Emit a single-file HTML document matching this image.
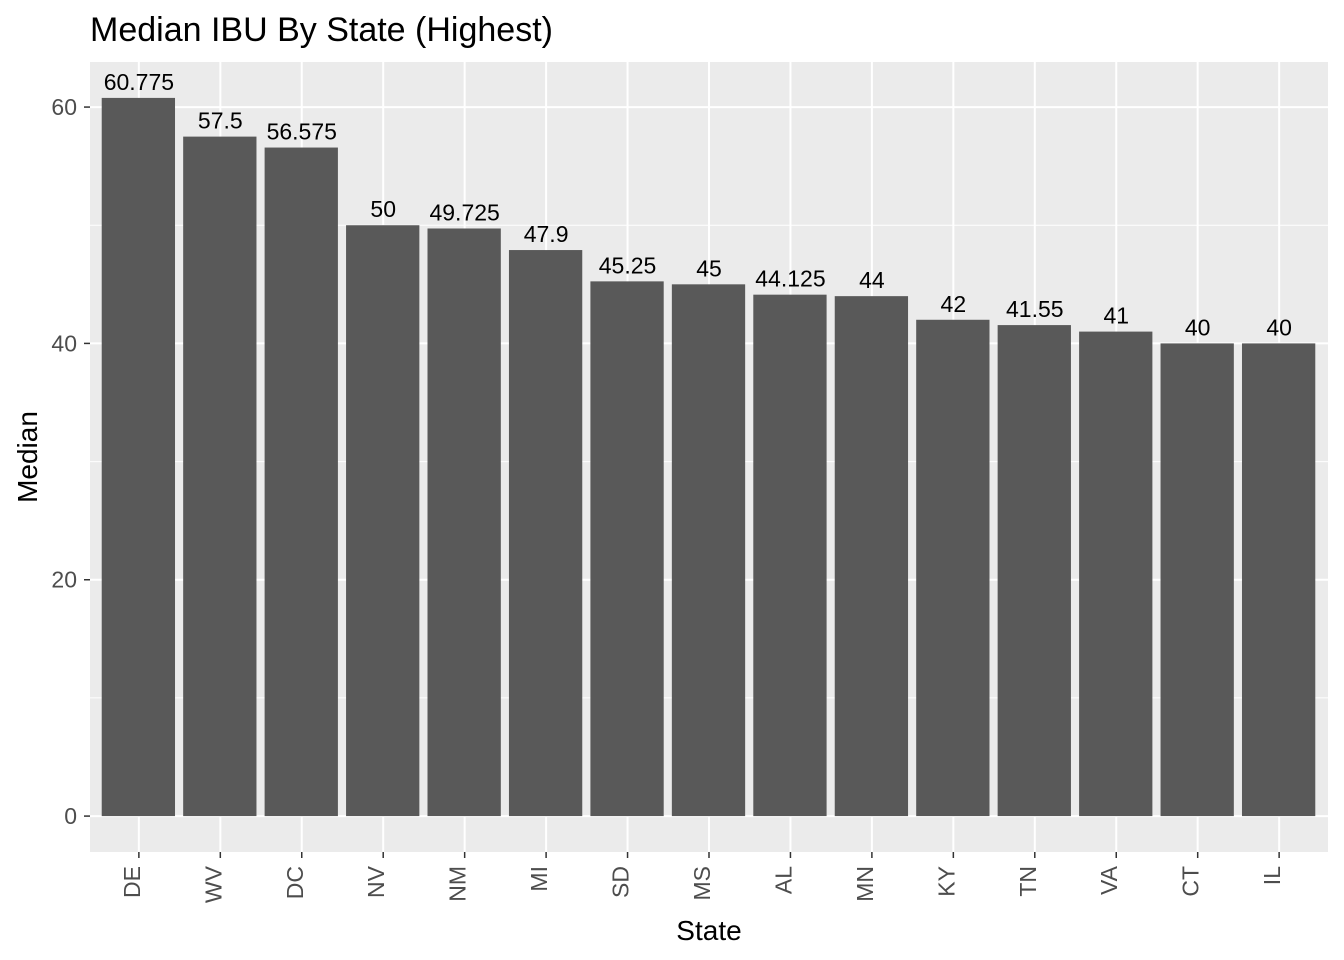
<!DOCTYPE html>
<html><head><meta charset="utf-8"><style>
body{margin:0;background:#fff;}
svg{display:block;font-family:"Liberation Sans",Arial,sans-serif;}
</style></head><body>
<svg id="c" width="1344" height="960">
<text x="90" y="41" font-size="34" fill="#000">Median IBU By State (Highest)</text>
<rect x="90" y="62" width="1238" height="790" fill="#ebebeb"/>
<g id="grid"></g><g id="bars"></g><g id="axes"></g>
<text x="709" y="940" font-size="28" text-anchor="middle" fill="#000">State</text>
<text transform="translate(37,457) rotate(-90)" font-size="28" text-anchor="middle" fill="#000">Median</text>
</svg>
<script>
const states=["DE","WV","DC","NV","NM","MI","SD","MS","AL","MN","KY","TN","VA","CT","IL"];
const medians=[60.775,57.5,56.575,50,49.725,47.9,45.25,45,44.125,44,42,41.55,41,40,40];
const labels=["60.775","57.5","56.575","50","49.725","47.9","45.25","45","44.125","44","42","41.55","41","40","40"];
const yTicks=[0,20,40,60];
const NS="http://www.w3.org/2000/svg";
const px0=90,px1=1328,py0=62,py1=852;
function y(v){const lo=-Math.max(...medians)*0.05,hi=Math.max(...medians)*1.05;return py1-(v-lo)/(hi-lo)*(py1-py0);}
const step=(px1-px0)/(states.length+0.2);
function x(i){return px0+step*(0.6+i);}
function mk(t,a,p){const e=document.createElementNS(NS,t);for(const k in a)e.setAttribute(k,a[k]);p.appendChild(e);return e;}
const grid=document.getElementById('grid'),bars=document.getElementById('bars'),axes=document.getElementById('axes');
for(let k=0;k<yTicks.length;k++){
  const v=yTicks[k];
  if(k<yTicks.length-1){const m=(v+yTicks[k+1])/2;const gm=mk('line',{x1:px0,x2:px1,y1:y(m),y2:y(m),stroke:'#fff','stroke-width':1},grid);
  
  }
  const g=mk('line',{x1:px0,x2:px1,y1:y(v),y2:y(v),stroke:'#fff','stroke-width':2},grid);
  
  
  const tk=mk('line',{x1:84,x2:90,y1:y(v),y2:y(v),stroke:'#333','stroke-width':1.5},axes);
  
  
  const t=mk('text',{x:77,y:y(v)+8,'font-size':23,'text-anchor':'end',fill:'#4d4d4d'},axes);
  t.textContent=v;
  
  
}
const bw=step*0.9;
states.forEach((s,i)=>{
  const cx=x(i);
  const gl=mk('line',{x1:cx,x2:cx,y1:py0,y2:py1,stroke:'#fff','stroke-width':2},grid);
  
  
  const r=mk('rect',{x:cx-bw/2-0.5,y:y(medians[i]),width:bw,height:y(0)-y(medians[i]),fill:'#595959'},bars);
  
  
  const lb=mk('text',{x:cx,y:y(medians[i])-8,'font-size':23,'text-anchor':'middle',fill:'#000'},bars);
  lb.textContent=labels[i];
  
  
  const tk=mk('line',{x1:cx,x2:cx,y1:852,y2:858,stroke:'#333','stroke-width':1.5},axes);
  
  
  const t=mk('text',{transform:`translate(${cx+1},866) rotate(-90)`,'font-size':23,'text-anchor':'end',fill:'#4d4d4d'},axes);
  t.textContent=s;
  
  
});
</script>
</body></html>
